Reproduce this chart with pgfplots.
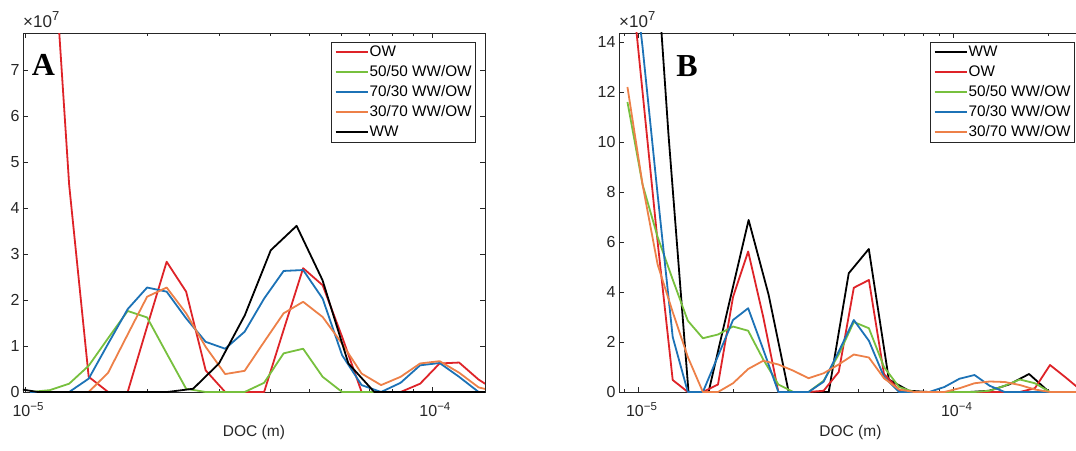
\documentclass[border=0pt]{standalone}
\usepackage{fontspec}
\setmainfont{Liberation Sans}
\newfontfamily\panelfont{Liberation Serif}
\usepackage{pgfplots}
\pgfplotsset{compat=1.18}
\definecolor{cRed}{RGB}{222,35,40}
\definecolor{cGreen}{RGB}{119,192,62}
\definecolor{cBlue}{RGB}{28,114,182}
\definecolor{cOrange}{RGB}{237,128,72}
\definecolor{axgray}{RGB}{38,38,38}
\newcommand{\decexp}[1]{10{\fontsize{11.5}{12}\selectfont\raisebox{6.5pt}{#1}}}
\pgfplotsset{
  legend image code/.code={\draw[#1, line width=1.8pt] (0pt,0pt) -- (32pt,0pt);},
  every axis plot/.append style={line width=1.8pt, line join=round, mark=none},
}
\begin{document}
\begin{tikzpicture}
\path[use as bounding box] (0,0) rectangle (1076pt,450pt);
\clip (0,0) rectangle (1076pt,450pt);
% ---------------- Panel A ----------------
\begin{axis}[name=A, at={(23pt,58pt)}, anchor=south west,
  scale only axis, width=462pt, height=359pt,
  xmode=log,
  xmin=9.887e-6, xmax=1.350e-4, ymin=0, ymax=7.8, ytick={0,1,...,7},
  axis line style={draw=axgray, line width=0.7pt},
  tick style={draw=axgray, line width=0.6pt},
  tick align=inside, xtick pos=both, ytick pos=both,
  major tick length=5pt, minor tick length=3pt,
  xtick={1e-5,1e-4},
  xticklabels={\decexp{−5},\decexp{−4}},
  minor xtick={2e-5,3e-5,4e-5,5e-5,6e-5,7e-5,8e-5,9e-5},
  ticklabel style={font=\fontsize{16}{19}\selectfont, text=axgray},
  xticklabel style={yshift=-7pt, xshift=3pt},
  /pgf/number format/assume math mode=true,
  xlabel={DOC (m)},
  xlabel style={font=\fontsize{15.5}{18}\selectfont, text=axgray, at={(axis description cs:0.5,0)}, anchor=center, yshift=-40pt},
  legend cell align=left,
  legend style={at={(axis description cs:0.9805,0.9758)}, anchor=north east, draw=axgray, line width=0.7pt, fill=white,
      font=\fontsize{15.3}{18}\selectfont, text=black,
      inner xsep=3pt, inner ysep=2pt, row sep=4pt,
      nodes={inner sep=1pt, text height=11pt, text depth=3pt}}]
\addplot[cRed] coordinates {(1.150e-5,11.0) (1.284e-5,4.50) (1.434e-5,0.33) (1.601e-5,0) (1.788e-5,0) (1.996e-5,1.42) (2.229e-5,2.83) (2.489e-5,2.18) (2.780e-5,0.47) (3.104e-5,0) (3.466e-5,0) (3.870e-5,0) (4.321e-5,1.35) (4.825e-5,2.69) (5.388e-5,2.32) (6.016e-5,1.2) (6.718e-5,0) (7.501e-5,0) (8.376e-5,0) (9.353e-5,0.18) (1.0444e-4,0.62) (1.1662e-4,0.64) (1.3022e-4,0.27) (1.4541e-4,0)};
\addlegendentry{OW}
\addplot[cGreen] coordinates {(1.030e-5,0) (1.150e-5,0.04) (1.284e-5,0.18) (1.434e-5,0.57) (1.601e-5,1.17) (1.788e-5,1.76) (1.996e-5,1.62) (2.229e-5,0.84) (2.489e-5,0.07) (2.780e-5,0) (3.104e-5,0) (3.466e-5,0) (3.870e-5,0.2) (4.321e-5,0.84) (4.825e-5,0.94) (5.388e-5,0.33) (6.016e-5,0) (6.718e-5,0) (7.501e-5,0)};
\addlegendentry{50/50 WW/OW}
\addplot[cBlue] coordinates {(1.030e-5,0) (1.150e-5,0) (1.284e-5,0) (1.434e-5,0.29) (1.601e-5,1.05) (1.788e-5,1.8) (1.996e-5,2.27) (2.229e-5,2.18) (2.489e-5,1.6) (2.780e-5,1.09) (3.104e-5,0.94) (3.466e-5,1.31) (3.870e-5,2.03) (4.321e-5,2.63) (4.825e-5,2.65) (5.388e-5,2.03) (6.016e-5,0.8) (6.718e-5,0.15) (7.501e-5,0) (8.376e-5,0.2) (9.353e-5,0.58) (1.0444e-4,0.63) (1.1662e-4,0.33) (1.3022e-4,0) (1.4541e-4,0)};
\addlegendentry{70/30 WW/OW}
\addplot[cOrange] coordinates {(1.150e-5,0) (1.284e-5,0) (1.434e-5,0) (1.601e-5,0.42) (1.788e-5,1.25) (1.996e-5,2.07) (2.229e-5,2.27) (2.489e-5,1.71) (2.780e-5,0.98) (3.104e-5,0.39) (3.466e-5,0.46) (3.870e-5,1.09) (4.321e-5,1.71) (4.825e-5,1.96) (5.388e-5,1.63) (6.016e-5,1.05) (6.718e-5,0.4) (7.501e-5,0.15) (8.376e-5,0.33) (9.353e-5,0.62) (1.0444e-4,0.67) (1.1662e-4,0.42) (1.3022e-4,0.1) (1.4541e-4,0)};
\addlegendentry{30/70 WW/OW}
\addplot[black] coordinates {(9.289e-6,0.09) (1.0754e-5,0) (1.2449e-5,0) (1.4412e-5,0) (1.6687e-5,0) (1.9318e-5,0) (2.2365e-5,0) (2.5892e-5,0.07) (2.9976e-5,0.62) (3.4701e-5,1.67) (4.0176e-5,3.08) (4.650e-5,3.61) (5.3843e-5,2.43) (6.2331e-5,0.62) (7.2171e-5,0) (8.3545e-5,0) (9.6725e-5,0) (1.1198e-4,0) (1.2964e-4,0) (1.5009e-4,0)};
\addlegendentry{WW}
\node[font=\panelfont\bfseries\fontsize{32}{36}\selectfont] at (axis description cs:0.0444,0.912) {A};
\end{axis}
% ---------------- Panel B ----------------
\begin{axis}[name=B, at={(619pt,58pt)}, anchor=south west,
  scale only axis, width=463pt, height=359pt,
  xmode=log,
  xmin=8.670e-6, xmax=2.558e-4, ymin=0, ymax=14.36, ytick={0,2,...,14},
  axis line style={draw=axgray, line width=0.7pt},
  tick style={draw=axgray, line width=0.6pt},
  tick align=inside, xtick pos=both, ytick pos=both,
  major tick length=5pt, minor tick length=3pt,
  xtick={1e-5,1e-4},
  xticklabels={\decexp{−5},\decexp{−4}},
  minor xtick={9e-6,2e-5,3e-5,4e-5,5e-5,6e-5,7e-5,8e-5,9e-5,2e-4},
  ticklabel style={font=\fontsize{16}{19}\selectfont, text=axgray},
  xticklabel style={yshift=-7pt, xshift=3pt},
  /pgf/number format/assume math mode=true,
  xlabel={DOC (m)},
  xlabel style={font=\fontsize{15.5}{18}\selectfont, text=axgray, at={(axis description cs:0.5,0)}, anchor=center, yshift=-40pt},
  legend cell align=left,
  legend style={at={(axis description cs:0.9849,0.9758)}, anchor=north east, draw=axgray, line width=0.7pt, fill=white,
      font=\fontsize{15.3}{18}\selectfont, text=black,
      inner xsep=3pt, inner ysep=2pt, row sep=4pt,
      nodes={inner sep=1pt, text height=11pt, text depth=3pt}}]
\addplot[black] coordinates {(1.0754e-5,22) (1.2449e-5,10.3) (1.4412e-5,0) (1.6687e-5,0) (1.9318e-5,3.45) (2.2365e-5,6.88) (2.5892e-5,3.88) (2.9976e-5,0) (3.4701e-5,0) (4.0176e-5,0) (4.650e-5,4.75) (5.3843e-5,5.72) (6.2331e-5,0.5) (7.2171e-5,0.05) (8.3545e-5,0) (9.6725e-5,0) (1.1198e-4,0) (1.2964e-4,0.05) (1.5009e-4,0.3) (1.7377e-4,0.72) (2.0117e-4,0) (2.3292e-4,0) (2.6962e-4,0)};
\addlegendentry{WW}
\addplot[cRed] coordinates {(9.224e-6,18.0) (1.030e-5,12.0) (1.150e-5,6.0) (1.284e-5,0.48) (1.434e-5,0) (1.601e-5,0) (1.788e-5,0.3) (1.996e-5,3.8) (2.229e-5,5.62) (2.489e-5,3.0) (2.780e-5,0) (3.104e-5,0) (3.466e-5,0) (3.870e-5,0.05) (4.321e-5,0.8) (4.825e-5,4.17) (5.388e-5,4.48) (6.016e-5,0.72) (6.718e-5,0.08) (7.501e-5,0) (8.376e-5,0) (9.353e-5,0) (1.0444e-4,0) (1.1662e-4,0) (1.3022e-4,0) (1.4541e-4,0) (1.624e-4,0) (1.813e-4,0.15) (2.025e-4,1.08) (2.261e-4,0.6) (2.524e-4,0.1)};
\addlegendentry{OW}
\addplot[cGreen] coordinates {(9.224e-6,11.6) (1.030e-5,8.3) (1.150e-5,6.2) (1.284e-5,4.5) (1.434e-5,2.85) (1.601e-5,2.15) (1.788e-5,2.3) (1.996e-5,2.62) (2.229e-5,2.45) (2.489e-5,1.3) (2.780e-5,0.3) (3.104e-5,0) (3.466e-5,0) (3.870e-5,0.45) (4.321e-5,1.5) (4.825e-5,2.8) (5.388e-5,2.55) (6.016e-5,1.0) (6.718e-5,0.2) (7.501e-5,0) (8.376e-5,0) (9.353e-5,0) (1.0444e-4,0) (1.1662e-4,0) (1.3022e-4,0.05) (1.4541e-4,0.25) (1.624e-4,0.5) (1.813e-4,0.35) (2.025e-4,0) (2.261e-4,0) (2.524e-4,0)};
\addlegendentry{50/50 WW/OW}
\addplot[cBlue] coordinates {(9.224e-6,19) (1.030e-5,13.8) (1.150e-5,7.9) (1.284e-5,2.2) (1.434e-5,0) (1.601e-5,0) (1.788e-5,1.44) (1.996e-5,2.88) (2.229e-5,3.35) (2.489e-5,1.7) (2.780e-5,0) (3.104e-5,0) (3.466e-5,0) (3.870e-5,0.41) (4.321e-5,1.62) (4.825e-5,2.88) (5.388e-5,2.05) (6.016e-5,0.61) (6.718e-5,0) (7.501e-5,0) (8.376e-5,0) (9.353e-5,0.2) (1.0444e-4,0.53) (1.1662e-4,0.68) (1.3022e-4,0.25) (1.4541e-4,0) (1.624e-4,0) (1.813e-4,0) (2.025e-4,0) (2.261e-4,0) (2.524e-4,0)};
\addlegendentry{70/30 WW/OW}
\addplot[cOrange] coordinates {(9.224e-6,12.2) (1.030e-5,8.3) (1.150e-5,5.1) (1.284e-5,3.2) (1.434e-5,1.4) (1.601e-5,0) (1.788e-5,0) (1.996e-5,0.35) (2.229e-5,0.92) (2.489e-5,1.25) (2.780e-5,1.1) (3.104e-5,0.85) (3.466e-5,0.55) (3.870e-5,0.75) (4.321e-5,1.1) (4.825e-5,1.5) (5.388e-5,1.38) (6.016e-5,0.55) (6.718e-5,0.1) (7.501e-5,0) (8.376e-5,0) (9.353e-5,0) (1.0444e-4,0.15) (1.1662e-4,0.35) (1.3022e-4,0.42) (1.4541e-4,0.4) (1.624e-4,0.28) (1.813e-4,0.1) (2.025e-4,0) (2.261e-4,0) (2.524e-4,0)};
\addlegendentry{30/70 WW/OW}
\node[font=\panelfont\bfseries\fontsize{32}{36}\selectfont] at (axis description cs:0.1469,0.908) {B};
\end{axis}
\node[anchor=south west, inner sep=0pt, text=axgray] at ([yshift=5pt]A.north west) {\fontsize{17}{20}\selectfont ×10{\fontsize{13}{14}\selectfont\raisebox{7pt}{7}}};
\node[anchor=south west, inner sep=0pt, text=axgray] at ([yshift=5pt]B.north west) {\fontsize{17}{20}\selectfont ×10{\fontsize{13}{14}\selectfont\raisebox{7pt}{7}}};
\end{tikzpicture}
\end{document}
